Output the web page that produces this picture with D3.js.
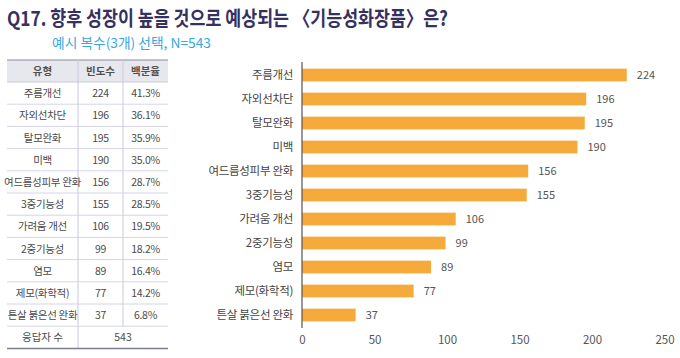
<!DOCTYPE html>
<html>
<head>
<meta charset="utf-8">
<script src="https://cdn.jsdelivr.net/npm/d3@7"></script>
<style>
  html, body { margin: 0; padding: 0; background: #fff; }
  svg { display: block; font-family: "Noto Sans CJK KR", "Noto Sans", sans-serif; }
</style>
</head>
<body>
<svg id="chart" width="680" height="358"></svg>
<script>
const titleText = "Q17. 향후 성장이 높을 것으로 예상되는 〈기능성화장품〉은?";
const subtitleText = "예시 복수(3개) 선택, N=543";
const categories = ["주름개선", "자외선차단", "탈모완화", "미백", "여드름성피부 완화", "3중기능성", "가려움 개선", "2중기능성", "염모", "제모(화학적)", "튼살 붉은선 완화"];
const counts = [224, 196, 195, 190, 156, 155, 106, 99, 89, 77, 37];
const percents = ["41.3%", "36.1%", "35.9%", "35.0%", "28.7%", "28.5%", "19.5%", "18.2%", "16.4%", "14.2%", "6.8%"];
const tableHeaders = ["유형", "빈도수", "백분율"];
const totalLabel = "응답자 수";
const totalValue = 543;
const xTicks = [0, 50, 100, 150, 200, 250];

const svg = d3.select("#chart");

// Title
svg.append("text").attr("x", 7).attr("y", 26)
  .attr("font-size", 20.5).attr("font-weight", 700).attr("fill", "#35315f")
  .attr("textLength", 441).attr("lengthAdjust", "spacingAndGlyphs")
  .text(titleText);
svg.append("text").attr("x", 52).attr("y", 48)
  .attr("font-size", 13.5).attr("fill", "#35a9df")
  .attr("textLength", 159).attr("lengthAdjust", "spacingAndGlyphs")
  .text(subtitleText);

// Table
const tX0 = 7, tX1 = 168, div1 = 78, div2 = 123;
const headTop = 60, headBot = 82, rowH = 22.2;
const nRows = categories.length + 1;
const tBottom = headBot + nRows * rowH;
const tbl = svg.append("g");
tbl.append("rect").attr("x", tX0).attr("y", headTop).attr("width", tX1 - tX0).attr("height", headBot - headTop).attr("fill", "#e7e7ee");
tbl.append("line").attr("x1", tX0).attr("x2", tX1).attr("y1", headTop).attr("y2", headTop).attr("stroke", "#8a8a9a").attr("stroke-width", 1);
const colCx = [(tX0 + div1) / 2, (div1 + div2) / 2, (div2 + tX1) / 2];
tableHeaders.forEach((h, i) => {
  tbl.append("text").attr("x", colCx[i]).attr("y", (headTop + headBot) / 2 + 4)
    .attr("text-anchor", "middle").attr("font-size", 10.5).attr("font-weight", 700).attr("fill", "#505050")
    .text(h);
});
for (let r = 0; r <= nRows - 1; r++) {
  const yy = headBot + r * rowH;
  tbl.append("line").attr("x1", tX0).attr("x2", tX1).attr("y1", yy).attr("y2", yy)
    .attr("stroke", r === 0 ? "#c9c9dc" : "#d4d4e8").attr("stroke-width", 1);
}
tbl.append("line").attr("x1", div1).attr("x2", div1).attr("y1", headTop).attr("y2", tBottom).attr("stroke", "#c9c9de");
tbl.append("line").attr("x1", div2).attr("x2", div2).attr("y1", headTop).attr("y2", tBottom - rowH).attr("stroke", "#c9c9de");
tbl.append("line").attr("x1", tX0).attr("x2", tX1).attr("y1", tBottom).attr("y2", tBottom).attr("stroke", "#7c7c92").attr("stroke-width", 1.5);
categories.forEach((c, i) => {
  const cy = headBot + i * rowH + rowH / 2 + 4;
  const vals = [c, counts[i], percents[i]];
  vals.forEach((v, j) => {
    tbl.append("text").attr("x", colCx[j]).attr("y", cy).attr("text-anchor", "middle")
      .attr("font-size", 10.5).attr("fill", "#4a4a4a").attr("letter-spacing", -0.3).text(v);
  });
});
{
  const cy = headBot + categories.length * rowH + rowH / 2 + 4;
  tbl.append("text").attr("x", colCx[0]).attr("y", cy).attr("text-anchor", "middle")
    .attr("font-size", 10.5).attr("fill", "#4a4a4a").text(totalLabel);
  tbl.append("text").attr("x", (div1 + tX1) / 2).attr("y", cy).attr("text-anchor", "middle")
    .attr("font-size", 10.5).attr("fill", "#4a4a4a").text(totalValue);
}

// Bar chart
const x = d3.scaleLinear().domain([0, 250]).range([302, 664.5]);
const y = d3.scaleBand().domain(categories).range([63, 327]).paddingInner(0.47).paddingOuter(0.235);
const g = svg.append("g");
g.selectAll("rect.bar").data(categories).join("rect").attr("class", "bar")
  .attr("x", x(0)).attr("y", d => y(d))
  .attr("width", (d, i) => x(counts[i]) - x(0)).attr("height", y.bandwidth())
  .attr("fill", "#f6aa3c");
g.selectAll("text.val").data(categories).join("text").attr("class", "val")
  .attr("x", (d, i) => x(counts[i]) + 10).attr("y", d => y(d) + y.bandwidth() / 2 + 4)
  .attr("font-size", 11).attr("fill", "#555").text((d, i) => counts[i]);
g.selectAll("text.cat").data(categories).join("text").attr("class", "cat")
  .attr("x", 293).attr("y", d => y(d) + y.bandwidth() / 2 + 4)
  .attr("text-anchor", "end").attr("font-size", 11.5).attr("fill", "#444").attr("letter-spacing", -0.3).text(d => d);
g.append("line").attr("x1", x(0)).attr("x2", x(0)).attr("y1", 62).attr("y2", 328)
  .attr("stroke", "#555").attr("stroke-width", 1.2);

const xAxis = d3.axisBottom(x).tickValues(xTicks).tickSize(0).tickPadding(0);
const ax = svg.append("g").attr("transform", "translate(0,336)").call(xAxis);
ax.select(".domain").remove();
ax.selectAll("text").attr("font-size", 11.5).attr("fill", "#555")
  .attr("font-family", "'Noto Sans CJK KR', sans-serif").attr("dy", "0.71em");
</script>
</body>
</html>
